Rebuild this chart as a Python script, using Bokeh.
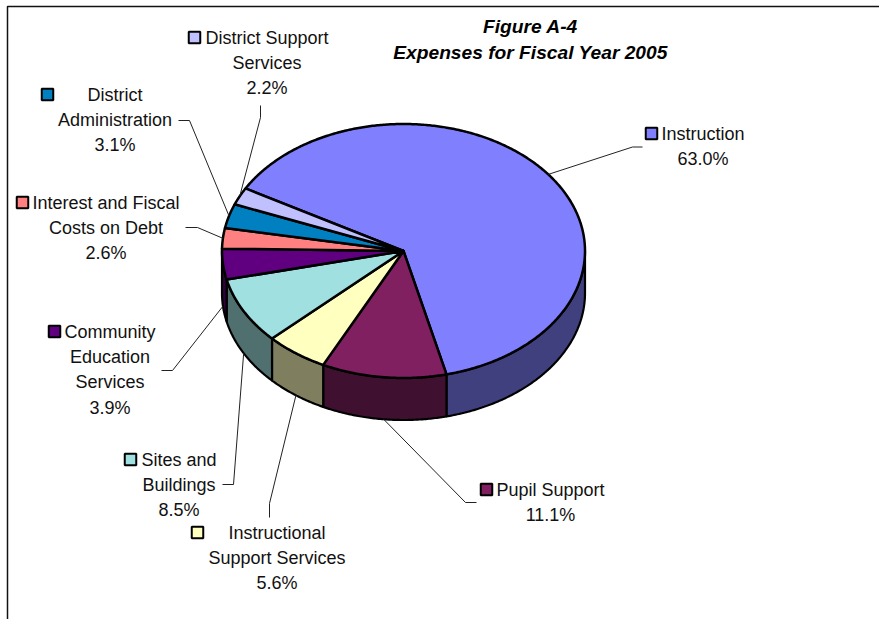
import numpy as np
from bokeh.core.properties import value
from bokeh.embed import file_html
from bokeh.models import ColumnDataSource
from bokeh.plotting import figure
from bokeh.resources import INLINE

# Fiscal 2005 expenses, clockwise from the first slice
categories = [
    "Instruction", "Pupil Support", "Instructional Support Services",
    "Sites and Buildings", "Community Education Services",
    "Interest and Fiscal Costs on Debt", "District Administration",
    "District Support Services",
]
shares = [63.0, 11.1, 5.6, 8.5, 3.9, 2.6, 3.1, 2.2]
colors = ["#8080FF", "#802060", "#FFFFC0", "#A0E0E0", "#600080", "#FF8080", "#0080C0", "#C0C0FF"]
label_lines = [
    ["Instruction"], ["Pupil Support"], ["Instructional", "Support Services"],
    ["Sites and", "Buildings"], ["Community", "Education", "Services"],
    ["Interest and Fiscal", "Costs on Debt"], ["District", "Administration"],
    ["District Support", "Services"],
]
title_lines = ["Figure A-4", "Expenses for Fiscal Year 2005"]

# Page layout, in pixels from the top-left corner
W, H = 879, 619
CX, CY, RX, RY, DEPTH = 403, 250.5, 181.5, 127, 42
START_DEG = 150.5
label_x = [702.5, 550, 276.5, 178.5, 109.5, 105.5, 114.5, 266.5]
label_y = [133, 489, 532, 459, 331, 202, 94, 37]
swatch_x = [651, 486, 197, 130, 54, 22, 47, 194]
LINE_H = 25.4
elbows = [
    [(632, 146.5), (642, 146.5)],
    [(465, 502), (476, 502)],
    [(269, 503), (269, 517)],
    [(233, 484), (222, 484)],
    [(172, 370), (161, 370)],
    [(197, 227), (185, 227)],
    [(189, 120), (178, 120)],
    [(260, 117), (260, 105)],
]


def darker(hex_color):
    r, g, b = (int(hex_color[i:i + 2], 16) // 2 for i in (1, 3, 5))
    return f"#{r:02X}{g:02X}{b:02X}"


def arc(a0, a1, drop=0.0):
    t = np.radians(np.linspace(a0, a1, max(int(abs(a1 - a0) * 2), 2)))
    return CX + RX * np.cos(t), CY - RY * np.sin(t) + drop


p = figure(width=W, height=H, x_range=(0, W), y_range=(H, 0), output_backend="svg",
           toolbar_location=None, min_border=0, outline_line_color=None,
           background_fill_color="white", border_fill_color="white")
p.axis.visible = False
p.grid.visible = False

# Outer frame, open to the right and bottom
p.line([7, 7, W], [H, 6, 6], line_color="#111111", line_width=1.5)

fractions = np.array(shares) / sum(shares)
ends = START_DEG - 360 * np.cumsum(fractions)
starts = np.concatenate([[START_DEG], ends[:-1]])

# Rim first, only where a slice faces the viewer (the lower half of the ellipse)
for a0, a1, c in zip(starts, ends, colors):
    lo0 = ((a0 + 180) % 360) - 180
    hi, lo = min(lo0, 0), max(lo0 - (a0 - a1), -180)
    if lo0 > 0:
        hi = 0
    if hi <= lo:
        continue
    x0, y0 = arc(hi, lo)
    x1, y1 = arc(lo, hi, DEPTH)
    p.patch(np.r_[x0, x1], np.r_[y0, y1], fill_color=darker(c), line_color="black", line_width=2.2)

# Top face of each slice
for a0, a1, c in zip(starts, ends, colors):
    x, y = arc(a0, a1)
    p.patch(np.r_[CX, x], np.r_[CY, y], fill_color=c, line_color="black",
            line_width=2.5, line_join="round")

# Leader lines run from each slice's mid-angle out to its label
for a0, a1, pts in zip(starts, ends, elbows):
    mid = np.radians((a0 + a1) / 2)
    ax, ay = CX + RX * np.cos(mid), CY - RY * np.sin(mid)
    if np.sin(mid) < 0:
        ay += DEPTH
    p.line([ax] + [q[0] for q in pts], [ay] + [q[1] for q in pts],
           line_color="#222222", line_width=1)

# Labels: name lines, then the share
tx, ty, tt = [], [], []
for lines, share, lx, ly in zip(label_lines, shares, label_x, label_y):
    for i, s in enumerate(lines + [f"{share:.1f}%"]):
        tx.append(lx)
        ty.append(ly + i * LINE_H)
        tt.append(s)
p.text(x="x", y="y", text="t", source=ColumnDataSource(dict(x=tx, y=ty, t=tt)),
       text_font=value("Liberation Sans"), text_font_size="18px", text_color="#111111",
       text_align="center", text_baseline="middle")

p.scatter(swatch_x, label_y, marker="square", size=11.5, fill_color=colors,
          line_color="black", line_width=2)

p.text(x=[530, 530], y=[26, 52], text=title_lines,
       text_font=value("Liberation Sans"), text_font_size="19.2px", text_font_style="bold italic",
       text_color="black", text_align="center", text_baseline="middle")

open("out.html", "w").write(file_html(p, INLINE))
